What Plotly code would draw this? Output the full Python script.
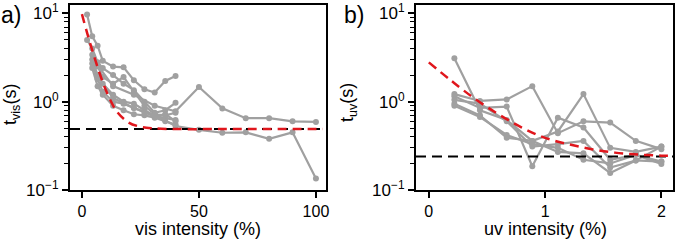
import plotly.graph_objects as go

# ---------------- data: panel a (visible light) ----------------
vis_x_a = [2.2, 4.4, 6.7, 8.9, 13.3, 17.8, 22.2, 26.7, 31.1, 35.6, 40.0]
vis_t_1 = [9.7, 5.5, 4.3, 2.9, 2.5, 2.45, 1.75, 1.38, 1.27, 1.72, 1.95]
vis_t_2 = [5.0, 4.0, 2.8, 2.4, 2.0, 1.6, 1.35, 1.0, 0.75, 0.8, 0.97]

vis_x_b = [4.4, 6.7, 8.9, 13.3, 17.8, 22.2, 26.7, 31.1, 35.6, 40.0]
vis_t_3 = [3.4, 2.5, 1.9, 1.6, 1.9, 1.3, 0.9, 0.72, 0.7, 0.75]
vis_t_4 = [3.0, 2.0, 1.6, 1.2, 1.0, 0.95, 0.8, 0.7, 0.65, 0.62]
vis_t_5 = [2.7, 1.8, 1.3, 1.0, 0.95, 0.85, 0.75, 0.68, 0.72, 0.60]
vis_t_6 = [2.4, 1.5, 1.2, 0.9, 0.8, 0.72, 0.7, 0.66, 0.6, 0.55]

vis_x_long = [6.7, 13.3, 22.2, 31.1, 40.0, 50, 60, 70, 80, 90, 100]
vis_t_long1 = [2.6, 1.5, 1.2, 0.9, 0.78, 1.47, 0.84, 0.65, 0.65, 0.60, 0.59]
vis_t_long2 = [2.0, 1.1, 0.85, 0.7, 0.53, 0.48, 0.445, 0.45, 0.38, 0.45, 0.135]

vis_fit_x = [0, 2, 4, 6, 8, 10, 12, 15, 20, 25, 30, 40, 60, 80, 103]
vis_fit_t = [9.8, 6.3, 4.15, 2.8, 1.94, 1.40, 1.06, 0.77, 0.58, 0.52, 0.50, 0.49, 0.49, 0.49, 0.49]
vis_plateau = 0.49

# ---------------- data: panel b (uv light) ----------------
uv_x = [0.22, 0.44, 0.67, 0.89, 1.11, 1.33, 1.56, 1.78, 2.0]
uv_t_1 = [3.1, 0.80, 0.62, 0.36, 0.46, 1.22, 0.30, 0.27, 0.31]
uv_t_2 = [1.22, 1.02, 1.06, 1.50, 0.44, 0.60, 0.58, 0.36, 0.29]
uv_t_3 = [1.15, 0.85, 0.88, 0.186, 0.66, 0.51, 0.22, 0.25, 0.21]
uv_t_4 = [1.05, 0.95, 0.60, 0.31, 0.33, 0.36, 0.18, 0.216, 0.31]
uv_t_5 = [0.95, 0.70, 0.39, 0.36, 0.27, 0.26, 0.156, 0.216, 0.21]
uv_t_6 = [0.90, 0.67, 0.42, 0.33, 0.30, 0.22, 0.20, 0.25, 0.197]

uv_fit_x = [0, 0.2, 0.4, 0.6, 0.8, 1.0, 1.2, 1.4, 1.6, 1.8, 2.0, 2.1]
uv_fit_t = [2.79, 1.70, 1.07, 0.72, 0.51, 0.39, 0.33, 0.29, 0.265, 0.252, 0.245, 0.243]
uv_plateau = 0.24

VIS_XRANGE = [-5.1, 104.3]
UV_XRANGE = [-0.11, 2.1]
LOG_YRANGE = [-1.0, 1.095]

vis_xticks = [0, 50, 100]
uv_xticks = [0, 1, 2]
y_tickvals = [0.1, 1, 10]
y_ticktext = ["10<sup>−1</sup>", "10<sup>0</sup>", "10<sup>1</sup>"]
y_minor = [0.2, 0.3, 0.4, 0.5, 0.6, 0.7, 0.8, 0.9, 2, 3, 4, 5, 6, 7, 8, 9]

GREY = "#a0a0a0"
RED = "#e0161c"
FONT = "Liberation Sans, Arial, sans-serif"
W, H = 675, 240

fig = go.Figure()

def grey(x, y, xa, ya):
    fig.add_trace(go.Scatter(x=x, y=y, mode="lines+markers", xaxis=xa, yaxis=ya,
                             line=dict(color=GREY, width=2.2),
                             marker=dict(color=GREY, size=6), showlegend=False))

for t in [vis_t_1, vis_t_2]:
    grey(vis_x_a, t, "x", "y")
for t in [vis_t_3, vis_t_4, vis_t_5, vis_t_6]:
    grey(vis_x_b, t, "x", "y")
grey(vis_x_long, vis_t_long1, "x", "y")
grey(vis_x_long, vis_t_long2, "x", "y")

for t in [uv_t_1, uv_t_2, uv_t_3, uv_t_4, uv_t_5, uv_t_6]:
    grey(uv_x, t, "x2", "y2")

# plateau lines
fig.add_trace(go.Scatter(x=VIS_XRANGE, y=[vis_plateau, vis_plateau], mode="lines",
                         xaxis="x", yaxis="y", showlegend=False,
                         line=dict(color="black", width=2, dash="10px,6px")))
fig.add_trace(go.Scatter(x=UV_XRANGE, y=[uv_plateau, uv_plateau], mode="lines",
                         xaxis="x2", yaxis="y2", showlegend=False,
                         line=dict(color="black", width=2, dash="10px,6px")))

# fit curves
fig.add_trace(go.Scatter(x=vis_fit_x, y=vis_fit_t, mode="lines", xaxis="x", yaxis="y",
                         showlegend=False, line=dict(color=RED, width=2.5, dash="9px,6px", shape="spline")))
fig.add_trace(go.Scatter(x=uv_fit_x, y=uv_fit_t, mode="lines", xaxis="x2", yaxis="y2",
                         showlegend=False, line=dict(color=RED, width=2.5, dash="9px,6px", shape="spline")))

axis_common = dict(showline=True, linewidth=2, linecolor="black", mirror=True,
                   ticks="outside", ticklen=6, tickwidth=1.5, tickcolor="black",
                   showgrid=False, zeroline=False, automargin=False)

xaxis_common = dict(axis_common, tickfont=dict(family=FONT, size=16, color="black"))
yaxis_common = dict(axis_common, type="log", range=LOG_YRANGE,
                    tickvals=y_tickvals, ticktext=y_ticktext,
                    tickfont=dict(family=FONT, size=17, color="black"),
                    minor=dict(tickvals=y_minor, ticks="outside", ticklen=4,
                               tickwidth=1.2, tickcolor="black", showgrid=False))

def ann(text, px, py, size, angle=0):
    return dict(text=text, x=px / W, y=1 - py / H, xref="paper", yref="paper",
                xanchor="center", yanchor="middle", showarrow=False, textangle=angle,
                font=dict(family=FONT, size=size, color="black"))

fig.update_layout(
    width=W, height=H,
    margin=dict(l=0, r=0, t=0, b=0),
    paper_bgcolor="white", plot_bgcolor="white",
    font=dict(family=FONT, size=16, color="black"),
    xaxis=dict(xaxis_common, domain=[70/W, 326/W], range=VIS_XRANGE,
               tickvals=vis_xticks, anchor="y"),
    yaxis=dict(yaxis_common, domain=[50/H, 235/H], anchor="x"),
    xaxis2=dict(xaxis_common, domain=[416/W, 673/W], range=UV_XRANGE,
                tickvals=uv_xticks, anchor="y2"),
    yaxis2=dict(yaxis_common, domain=[50/H, 235/H], anchor="x2"),
    annotations=[
        ann("vis intensity (%)", 198, 229, 18),
        ann("uv intensity (%)", 545, 229, 18),
        ann("t<sub>vis</sub>(s)", 11, 104, 18, -90),
        ann("t<sub>uv</sub>(s)", 348, 103, 18, -90),
        ann("a)", 11, 15, 23),
        ann("b)", 354, 15, 23),
    ],
)

fig.write_html("out.html", config={"displayModeBar": False},
               post_script="document.body.style.margin='0';document.body.style.overflow='hidden';")
